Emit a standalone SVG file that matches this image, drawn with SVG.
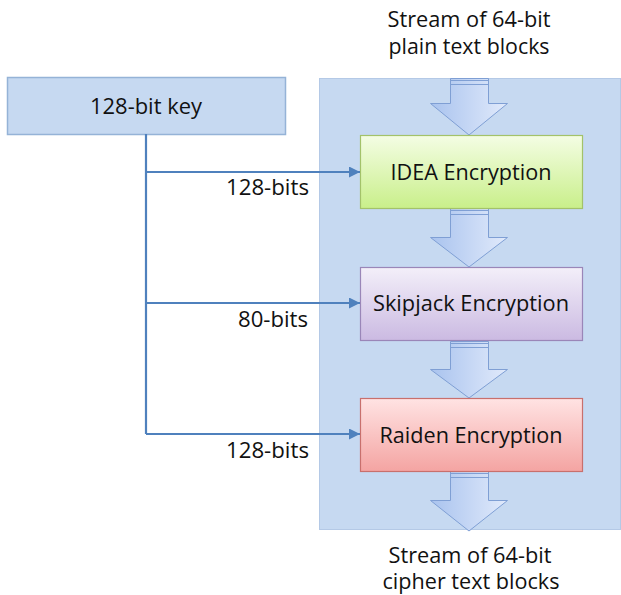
<svg xmlns="http://www.w3.org/2000/svg" width="621" height="595" viewBox="0 0 621 595">
<defs>
<style>
text{font-family:"Open Sans","Liberation Sans",sans-serif;font-size:21px;fill:#111111}
.mid{text-anchor:middle}
.end{text-anchor:end}
.conn{stroke:#4f81bd;stroke-width:2.2;fill:none}
.barrow{fill:url(#gArrow);stroke:#7f9fd4;stroke-width:1}
.stripe{stroke:#7f9fd4;stroke-width:1}
</style>
<linearGradient id="gArrow" x1="0" y1="0" x2="1" y2="0">
<stop offset="0" stop-color="#a9c3ee"/>
<stop offset="1" stop-color="#e1eafb"/>
</linearGradient>
<linearGradient id="gGreen" x1="0" y1="0" x2="0" y2="1">
<stop offset="0" stop-color="#f4fde4"/>
<stop offset="1" stop-color="#c9ef8a"/>
</linearGradient>
<linearGradient id="gPurple" x1="0" y1="0" x2="0" y2="1">
<stop offset="0" stop-color="#f3eff9"/>
<stop offset="1" stop-color="#cbbae2"/>
</linearGradient>
<linearGradient id="gRed" x1="0" y1="0" x2="0" y2="1">
<stop offset="0" stop-color="#ffe3e3"/>
<stop offset="1" stop-color="#f4a4a2"/>
</linearGradient>
<marker id="ah" viewBox="0 0 10 10" refX="10" refY="5" markerWidth="5.5" markerHeight="5" markerUnits="strokeWidth" orient="auto">
<path d="M0,0 L10,5 L0,10 Z" fill="#4f81bd"/>
</marker>
</defs>

<g id="panel">
<rect x="319.5" y="78.5" width="301" height="451" fill="#c6d9f1" stroke="#b4c9e6" stroke-width="1"/>
</g>

<g id="key">
<rect x="7.5" y="77.5" width="278" height="57" fill="#c6d9f1" stroke="#95b3d7" stroke-width="1.5"/>
<text class="mid" x="146" y="114" textLength="112" lengthAdjust="spacingAndGlyphs">128-bit key</text>
</g>

<g id="flow-arrows">
<g id="arrow1">
<path class="barrow" d="M450.5,78.5 H488.5 V103.5 H507.5 L469,135 L430.5,103.5 H450.5 Z"/>
<line class="stripe" x1="450.5" y1="80.5" x2="488.5" y2="80.5"/>
<line class="stripe" x1="450.5" y1="84.5" x2="488.5" y2="84.5"/>
</g>
<g id="arrow2">
<path class="barrow" d="M450.5,208.5 H488.5 V237.5 H507.5 L469,267 L430.5,237.5 H450.5 Z"/>
<line class="stripe" x1="450.5" y1="210.5" x2="488.5" y2="210.5"/>
<line class="stripe" x1="450.5" y1="214.5" x2="488.5" y2="214.5"/>
</g>
<g id="arrow3">
<path class="barrow" d="M450.5,341.5 H488.5 V369.5 H507.5 L469,398 L430.5,369.5 H450.5 Z"/>
<line class="stripe" x1="450.5" y1="343.5" x2="488.5" y2="343.5"/>
<line class="stripe" x1="450.5" y1="347.5" x2="488.5" y2="347.5"/>
</g>
<g id="arrow4">
<path class="barrow" d="M450.5,471.5 H488.5 V500.5 H507.5 L469,531 L430.5,500.5 H450.5 Z"/>
<line class="stripe" x1="450.5" y1="473.5" x2="488.5" y2="473.5"/>
<line class="stripe" x1="450.5" y1="477.5" x2="488.5" y2="477.5"/>
</g>
</g>

<g id="idea">
<rect x="360.5" y="135.5" width="222" height="73" fill="url(#gGreen)" stroke="#a3c26a" stroke-width="1.2"/>
<text class="mid" x="471" y="180" textLength="161" lengthAdjust="spacingAndGlyphs">IDEA Encryption</text>
</g>

<g id="skipjack">
<rect x="360.5" y="267.5" width="222" height="73" fill="url(#gPurple)" stroke="#9a86b8" stroke-width="1.2"/>
<text class="mid" x="471" y="311" textLength="196" lengthAdjust="spacingAndGlyphs">Skipjack Encryption</text>
</g>

<g id="raiden">
<rect x="360.5" y="398.5" width="222" height="73" fill="url(#gRed)" stroke="#c8706d" stroke-width="1.2"/>
<text class="mid" x="471" y="443" textLength="183" lengthAdjust="spacingAndGlyphs">Raiden Encryption</text>
</g>

<g id="connectors">
<path class="conn" d="M146,134 V434"/>
<path class="conn" d="M146,172 H360" marker-end="url(#ah)"/>
<path class="conn" d="M146,303 H360" marker-end="url(#ah)"/>
<path class="conn" d="M146,434 H360" marker-end="url(#ah)"/>
</g>

<g id="labels">
<text class="end" x="309" y="195" textLength="83" lengthAdjust="spacingAndGlyphs">128-bits</text>
<text class="end" x="308" y="327" textLength="70" lengthAdjust="spacingAndGlyphs">80-bits</text>
<text class="end" x="309" y="458" textLength="83" lengthAdjust="spacingAndGlyphs">128-bits</text>
</g>

<g id="input-label">
<text class="mid" x="469" y="27" textLength="163" lengthAdjust="spacingAndGlyphs">Stream of 64-bit</text>
<text class="mid" x="469" y="54" textLength="161" lengthAdjust="spacingAndGlyphs">plain text blocks</text>
</g>

<g id="output-label">
<text class="mid" x="470" y="563" textLength="163" lengthAdjust="spacingAndGlyphs">Stream of 64-bit</text>
<text class="mid" x="471" y="589" textLength="177" lengthAdjust="spacingAndGlyphs">cipher text blocks</text>
</g>
</svg>
